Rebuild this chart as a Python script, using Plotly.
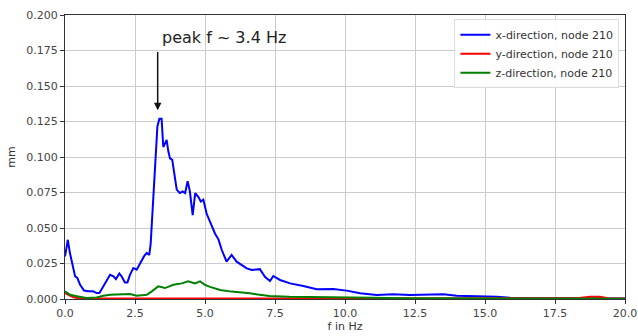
import plotly.graph_objects as go

fx = [0.0, 0.1, 0.18, 0.27, 0.36, 0.44, 0.54, 0.68, 0.83, 1.0, 1.13, 1.23, 1.37, 1.49, 1.61, 1.73,
      1.82, 1.94, 2.02, 2.14, 2.23, 2.32, 2.44, 2.56, 2.68, 2.82, 2.92, 3.01, 3.06, 3.13, 3.21,
      3.30, 3.37, 3.45, 3.51, 3.57, 3.63, 3.69, 3.75, 3.83, 3.89, 3.99, 4.1, 4.2, 4.29, 4.38,
      4.46, 4.56, 4.65, 4.76, 4.85, 4.94, 5.06, 5.18, 5.36, 5.48, 5.6, 5.77, 5.95, 6.13, 6.31,
      6.49, 6.67, 6.96, 7.14, 7.32, 7.44, 7.68, 8.04, 8.51, 8.99, 9.58, 10.06, 10.54, 11.13,
      11.73, 12.32, 12.92, 13.52, 13.99, 14.7, 14.94, 15.42, 15.89, 16.7, 17.9, 19.1, 20.0]
x_dir = [0.030, 0.0417, 0.032, 0.023, 0.016, 0.0148, 0.010, 0.006, 0.0054, 0.0054, 0.0042, 0.0042,
         0.0089, 0.0136, 0.017, 0.016, 0.014, 0.018, 0.016, 0.0117, 0.0117, 0.017, 0.0218, 0.0206,
         0.025, 0.030, 0.0324, 0.031, 0.039, 0.065, 0.098, 0.1215, 0.127, 0.127, 0.107, 0.110,
         0.112, 0.104, 0.099, 0.098, 0.0886, 0.077, 0.0746, 0.0757, 0.0746, 0.083, 0.0757, 0.059,
         0.0746, 0.072, 0.0687, 0.070, 0.060, 0.0546, 0.046, 0.042, 0.0345, 0.0263, 0.031, 0.0263,
         0.024, 0.0216, 0.0204, 0.021, 0.0157, 0.0127, 0.0162, 0.0134, 0.011, 0.0092, 0.0068,
         0.0070, 0.0059, 0.0040, 0.0028, 0.0033, 0.0028, 0.0028, 0.0033, 0.0023, 0.0021, 0.0016,
         0.0016, 0.0009, 0.0005, 0.0005, 0.0004, 0.0003]

fy = [0.0, 0.15, 0.3, 0.5, 1.0, 5.0, 10.0, 15.0, 18.3, 18.75, 19.1, 19.4, 20.0]
y_dir = [0.0042, 0.0028, 0.0012, 0.0005, 0.0004, 0.0004, 0.0004, 0.0004, 0.0005, 0.0015, 0.0016, 0.0006, 0.0004]

fz = [0.0, 0.18, 0.42, 0.77, 1.13, 1.37, 1.61, 1.96, 2.32, 2.56, 2.92, 3.1, 3.33, 3.57, 3.87,
      4.17, 4.4, 4.64, 4.82, 5.0, 5.18, 5.54, 5.95, 6.6, 7.3, 8.0, 9.0, 10.0, 11.0, 12.0, 14.0,
      17.0, 20.0]
z_dir = [0.0054, 0.003, 0.002, 0.0007, 0.001, 0.0023, 0.003, 0.003, 0.0035, 0.0023, 0.003,
         0.0054, 0.0089, 0.0077, 0.010, 0.011, 0.0124, 0.011, 0.0124, 0.010, 0.0085, 0.0063,
         0.0052, 0.004, 0.0021, 0.0016, 0.0015, 0.0014, 0.0009, 0.0005, 0.0003, 0.0002, 0.0002]

xticks = [0.0, 2.5, 5.0, 7.5, 10.0, 12.5, 15.0, 17.5, 20.0]
yticks = [0.0, 0.025, 0.05, 0.075, 0.1, 0.125, 0.15, 0.175, 0.2]

font = "DejaVu Sans"
fig = go.Figure()
fig.add_trace(go.Scatter(x=fx, y=x_dir, mode="lines", name="x-direction, node 210",
                         line=dict(color="#0000ff", width=2)))
fig.add_trace(go.Scatter(x=fy, y=y_dir, mode="lines", name="y-direction, node 210",
                         line=dict(color="#ff0000", width=2)))
fig.add_trace(go.Scatter(x=fz, y=z_dir, mode="lines", name="z-direction, node 210",
                         line=dict(color="#008000", width=2)))

axcommon = dict(showgrid=True, gridcolor="#cccccc", gridwidth=1, showline=True, linecolor="#333333",
                linewidth=1, mirror=True, ticks="outside", ticklen=4, tickcolor="#333333",
                tickfont=dict(family=font, size=11, color="#444444"), zeroline=False, automargin=False)
fig.update_xaxes(range=[0, 20], tickvals=xticks, ticktext=[f"{v:.1f}" for v in xticks],
                 title=dict(text="f in Hz", font=dict(family=font, size=11, color="#333333"), standoff=2),
                 **axcommon)
fig.update_yaxes(range=[0, 0.2], tickvals=yticks, ticktext=[f"{v:.3f}" for v in yticks],
                 title=dict(text="mm", font=dict(family=font, size=11, color="#333333"), standoff=8),
                 **axcommon)

fig.add_annotation(x=3.31, y=0.133, ax=3.31, ay=0.175, axref="x", ayref="y", xref="x", yref="y",
                   text="", showarrow=True, arrowhead=2, arrowsize=1, arrowwidth=1.5, arrowcolor="#111111")
fig.add_annotation(x=3.39, y=0.1845, xref="x", yref="y", text="peak f ~ 3.4 Hz", showarrow=False,
                   xanchor="left", yanchor="middle", font=dict(family=font, size=16, color="#222222"))

fig.update_layout(width=638, height=336, margin=dict(l=65, r=13, t=15, b=37),
                  paper_bgcolor="white", plot_bgcolor="white",
                  font=dict(family=font, size=11, color="#333333"),
                  legend=dict(x=0.99, y=0.985, xanchor="right", yanchor="top", bgcolor="rgba(255,255,255,0.9)",
                              bordercolor="#dddddd", borderwidth=1, font=dict(family=font, size=11, color="#333333"),
                              tracegroupgap=0, itemwidth=30))
fig.write_html("out.html", config={"displayModeBar": False},
               post_script="document.body.style.margin='0px';document.body.style.overflow='hidden';")
